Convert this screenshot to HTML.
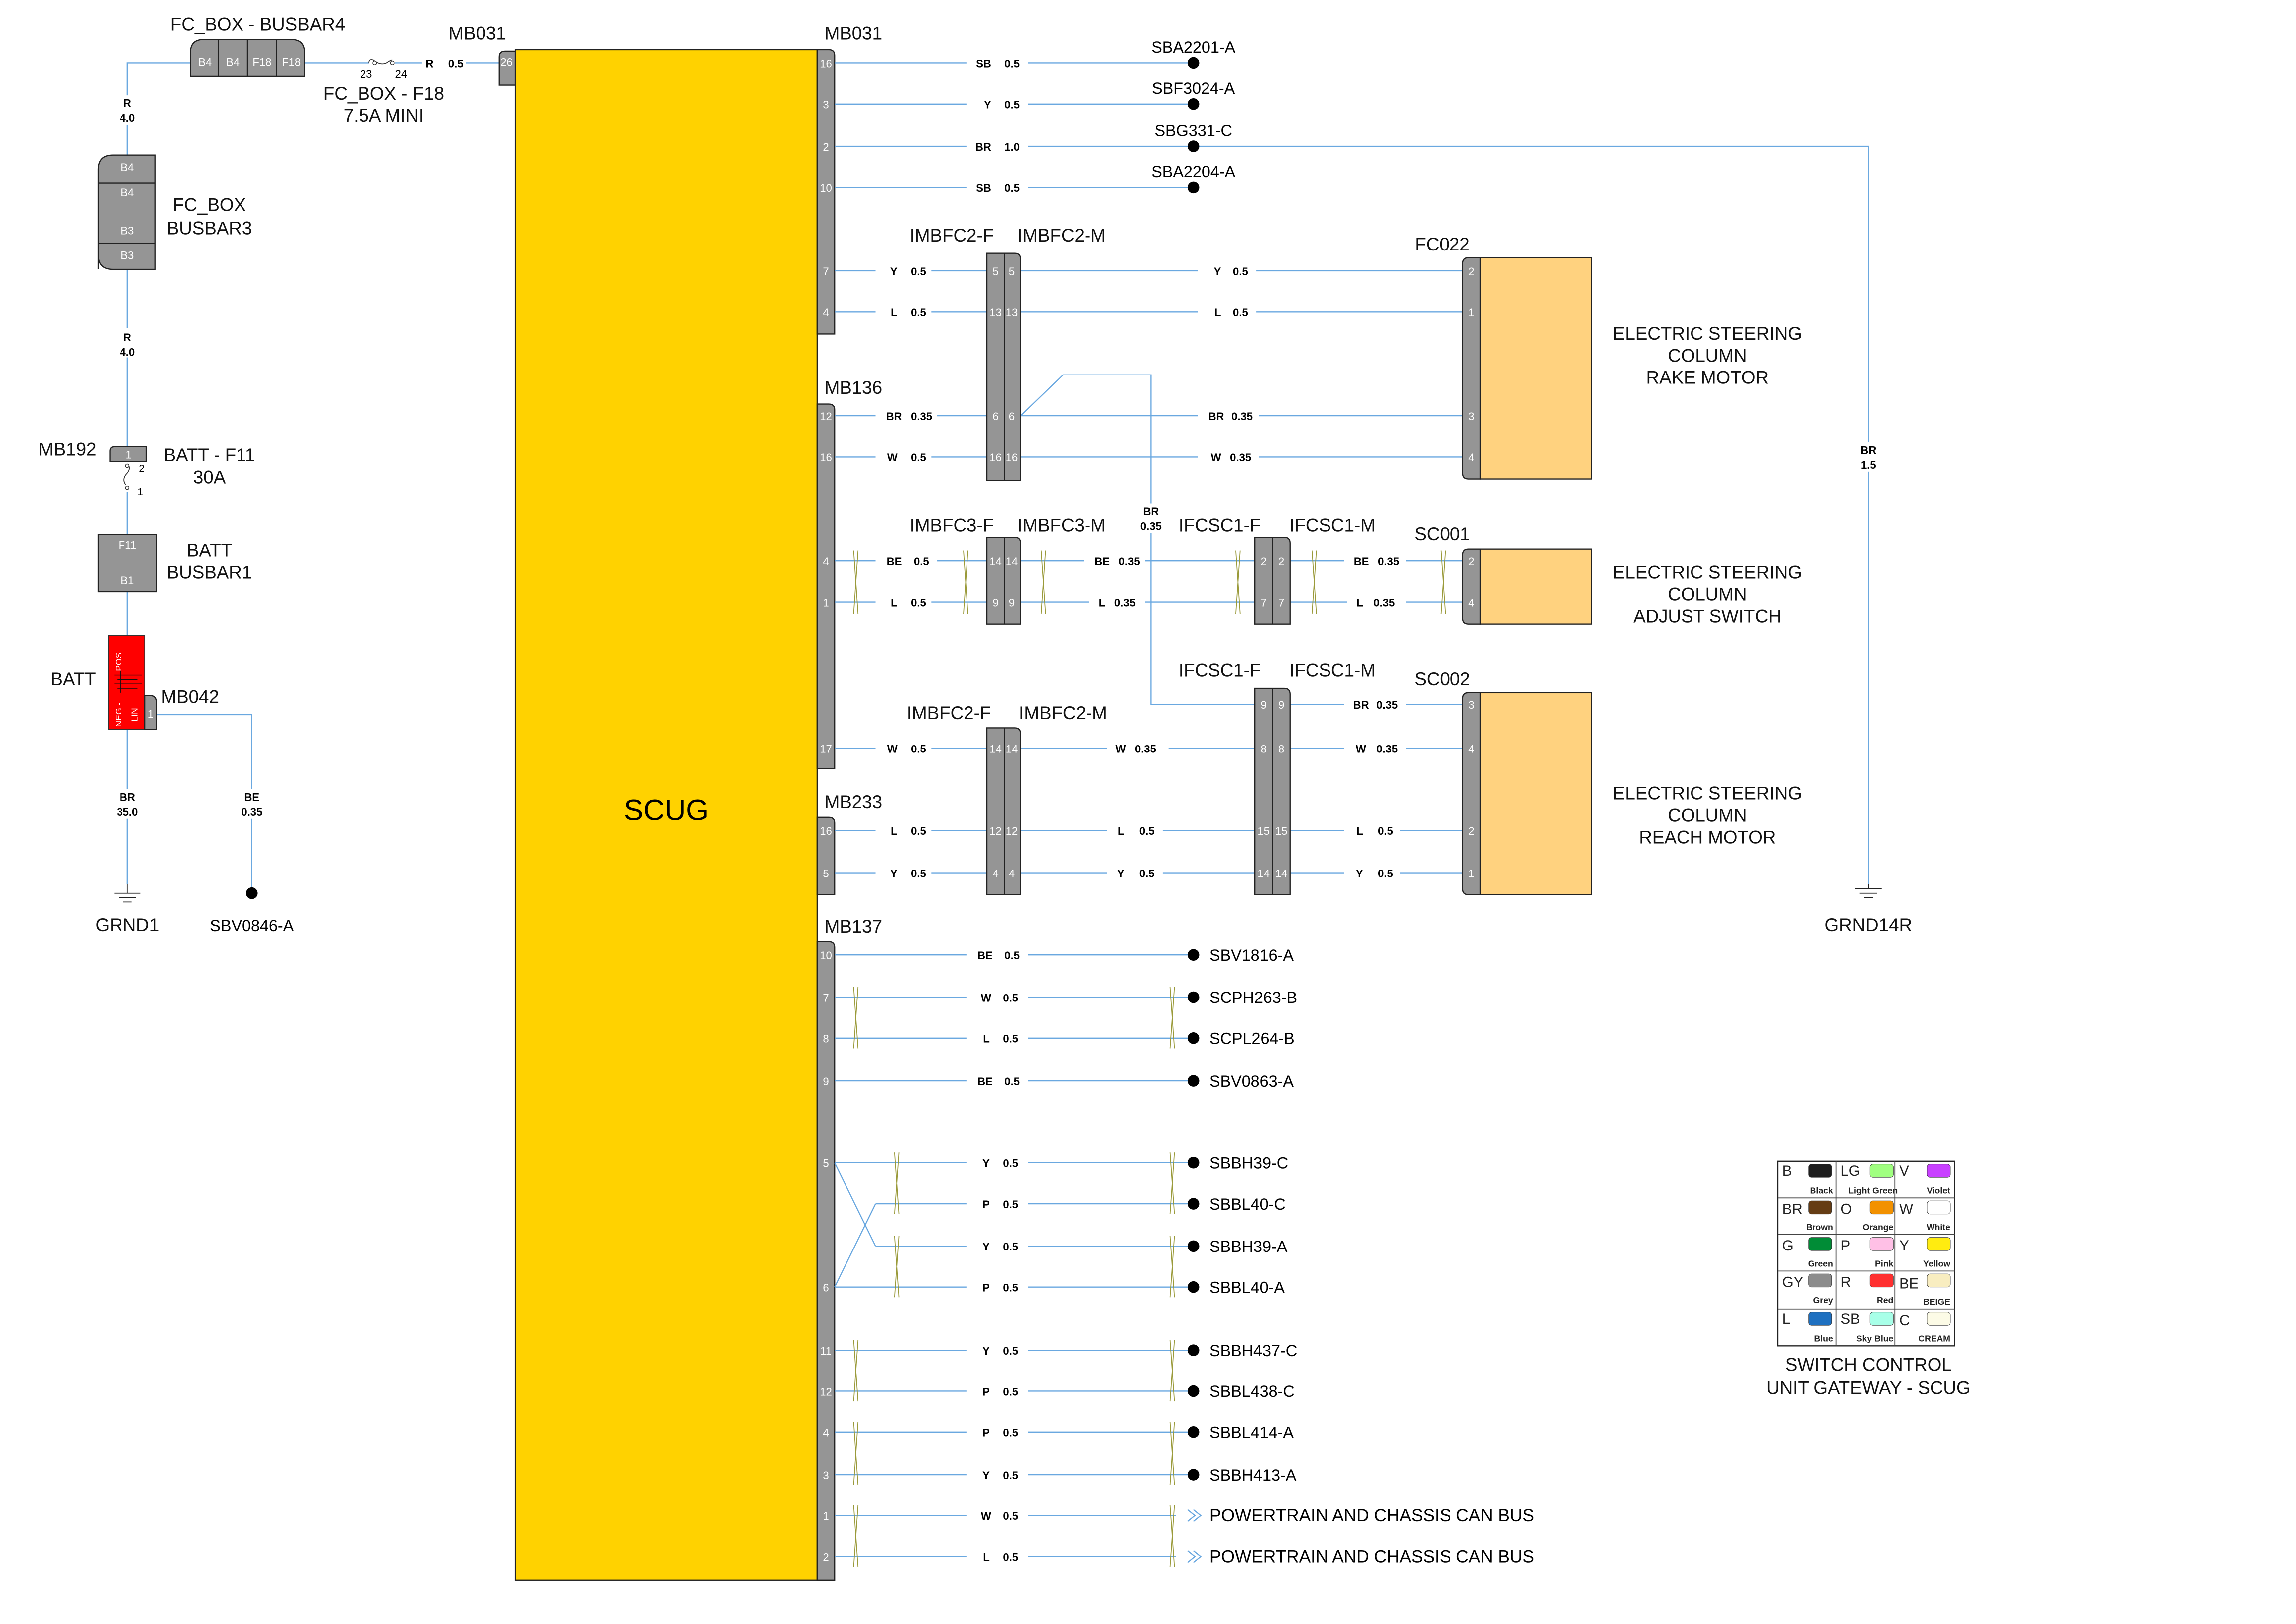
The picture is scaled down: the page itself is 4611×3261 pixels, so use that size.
<!DOCTYPE html>
<html><head><meta charset="utf-8"><style>
html,body{margin:0;padding:0;background:#fff;}
svg{display:block;}
text{font-family:"Liberation Sans",Arial,sans-serif;}
.w{stroke:#6aa8e0;stroke-width:0.8;fill:none;}
.pin{fill:#fff;font-size:7.5px;text-anchor:middle;}
.wl{font-size:7.5px;font-weight:bold;fill:#000;}
.lb{font-size:12.5px;fill:#111;}
.lc{font-size:12.5px;fill:#111;text-anchor:middle;}
.con{fill:#959595;stroke:#222;stroke-width:0.8;}
.tw{stroke:#9a9a3a;stroke-width:0.6;fill:none;}
.lg{font-size:10px;fill:#222;}
.lgs{font-size:6px;font-weight:bold;fill:#222;text-anchor:end;}
</style></head><body>
<svg width="4611" height="3261" viewBox="0 0 1568 1109" preserveAspectRatio="none" xmlns="http://www.w3.org/2000/svg">
<rect width="1568" height="1109" fill="#fff"/>

<!-- ===== LEFT POWER SECTION ===== -->
<path class="w" d="M130 43 H87 V107"/>
<path class="w" d="M87 184 V305"/>
<path class="w" d="M87 336 V365"/>
<path class="w" d="M87 404 V434"/>
<path class="w" d="M87 498 V604"/>
<path class="w" d="M107 488 H172 V608"/>
<path class="w" d="M208 43 H252"/>
<path class="w" d="M270 43 H341"/>

<text class="lc" x="176" y="21">FC_BOX - BUSBAR4</text>
<path class="con" d="M130 52 V36 Q130 27 139 27 H199 Q208 27 208 36 V52 Z"/>
<path d="M149 27V52M169 27V52M189 27V52" stroke="#222" stroke-width="0.8"/>
<text class="pin" x="140" y="45">B4</text><text class="pin" x="159" y="45">B4</text><text class="pin" x="179" y="45">F18</text><text class="pin" x="199" y="45">F18</text>

<path d="M252 43 q0-3 3-2 q5 4 9 2 q3-2 4-2" fill="none" stroke="#333" stroke-width="0.6"/>
<circle cx="256" cy="43" r="1.3" fill="#fff" stroke="#333" stroke-width="0.5"/>
<circle cx="268" cy="43" r="1.3" fill="#fff" stroke="#333" stroke-width="0.5"/>
<text x="250" y="53" font-size="7.5" text-anchor="middle">23</text>
<text x="274" y="53" font-size="7.5" text-anchor="middle">24</text>
<rect x="288" y="38" width="30" height="9" fill="#fff"/>
<text class="wl" x="296" y="46" text-anchor="end">R</text><text class="wl" x="306" y="46">0.5</text>
<text class="lc" x="262" y="68">FC_BOX - F18</text>
<text class="lc" x="262" y="83">7.5A MINI</text>
<text class="lc" x="326" y="27">MB031</text>
<path class="con" d="M341 58 V39 Q341 35 345 35 H352 V58 Z"/>
<text class="pin" x="346" y="45">26</text>

<rect x="80" y="65" width="14" height="20" fill="#fff"/>
<text class="wl" x="87" y="73" text-anchor="middle">R</text><text class="wl" x="87" y="83" text-anchor="middle">4.0</text>

<path class="con" d="M67 184 V116 Q67 106 77 106 H106 V184 H77 Q67 184 67 174 Z"/>
<path d="M67 125H106M67 166H106" stroke="#222" stroke-width="0.8"/>
<text class="pin" x="87" y="117">B4</text><text class="pin" x="87" y="134">B4</text><text class="pin" x="87" y="160">B3</text><text class="pin" x="87" y="177">B3</text>
<text class="lc" x="143" y="144">FC_BOX</text><text class="lc" x="143" y="160">BUSBAR3</text>

<rect x="80" y="224" width="14" height="20" fill="#fff"/>
<text class="wl" x="87" y="233" text-anchor="middle">R</text><text class="wl" x="87" y="243" text-anchor="middle">4.0</text>

<text class="lc" x="46" y="311">MB192</text>
<path class="con" d="M75 315 V308 Q75 305 78 305 H100 V315 Z"/>
<text class="pin" x="88" y="313">1</text>
<path d="M87 317 q3 2 0 6 q-4 4 -1 8" fill="none" stroke="#333" stroke-width="0.6"/>
<circle cx="87" cy="318" r="1.2" fill="#fff" stroke="#333" stroke-width="0.5"/>
<circle cx="87" cy="333" r="1.2" fill="#fff" stroke="#333" stroke-width="0.5"/>
<text x="95" y="322" font-size="7">2</text><text x="94" y="338" font-size="7">1</text>
<text class="lc" x="143" y="315">BATT - F11</text><text class="lc" x="143" y="330">30A</text>

<rect class="con" x="67" y="365" width="40" height="39"/>
<text class="pin" x="87" y="375">F11</text><text class="pin" x="87" y="399">B1</text>
<text class="lc" x="143" y="380">BATT</text><text class="lc" x="143" y="395">BUSBAR1</text>

<rect x="74" y="434" width="25" height="64" fill="#ff0000" stroke="#333" stroke-width="0.6"/>
<text transform="translate(83,452) rotate(-90)" font-size="6" fill="#fff" text-anchor="middle">POS</text>
<text transform="translate(83,488) rotate(-90)" font-size="6" fill="#fff" text-anchor="middle">NEG -</text>
<text transform="translate(94,488) rotate(-90)" font-size="6" fill="#fff" text-anchor="middle">LIN</text>
<path d="M78 461H97M80 464H94M78 467H97M80 470H94M82 458V473" stroke="#111" stroke-width="0.5"/>
<path class="con" d="M99 498 V475 H103 Q107 475 107 480 V498 Z"/>
<text class="pin" x="103" y="490">1</text>
<text class="lb" x="110" y="480">MB042</text>
<text class="lc" x="50" y="468">BATT</text>

<rect x="78" y="539" width="18" height="20" fill="#fff"/>
<text class="wl" x="87" y="547" text-anchor="middle">BR</text><text class="wl" x="87" y="557" text-anchor="middle">35.0</text>
<rect x="163" y="539" width="18" height="20" fill="#fff"/>
<text class="wl" x="172" y="547" text-anchor="middle">BE</text><text class="wl" x="172" y="557" text-anchor="middle">0.35</text>

<path d="M87 604V610M78 610H96M81 613H93M84 616H90" stroke="#222" stroke-width="0.6"/>
<text class="lc" x="87" y="636">GRND1</text>
<circle cx="172" cy="610" r="4" fill="#000"/>
<text x="172" y="636" font-size="11" text-anchor="middle">SBV0846-A</text>

<!-- ===== SCUG ===== -->
<rect x="352" y="34" width="206" height="1045" fill="#ffd200" stroke="#222" stroke-width="0.8"/>
<text x="455" y="560" font-size="20" text-anchor="middle">SCUG</text>

<path class="con" d="M558 228 V34 H566 Q570 34 570 38 V228 Z"/>
<text class="lb" x="563" y="27">MB031</text>
<path class="con" d="M558 525 V276 H566 Q570 276 570 280 V525 Z"/>
<text class="lb" x="563" y="269">MB136</text>
<path class="con" d="M558 611 V558 H566 Q570 558 570 562 V611 Z"/>
<text class="lb" x="563" y="552">MB233</text>
<path class="con" d="M558 1079 V643 H566 Q570 643 570 647 V1079 Z"/>
<text class="lb" x="563" y="637">MB137</text>

<g class="pin">
<text x="564" y="46">16</text><text x="564" y="74">3</text><text x="564" y="103">2</text><text x="564" y="131">10</text><text x="564" y="188">7</text><text x="564" y="216">4</text>
<text x="564" y="287">12</text><text x="564" y="315">16</text><text x="564" y="386">4</text><text x="564" y="414">1</text><text x="564" y="514">17</text>
<text x="564" y="570">16</text><text x="564" y="599">5</text>
<text x="564" y="655">10</text><text x="564" y="684">7</text><text x="564" y="712">8</text><text x="564" y="741">9</text><text x="564" y="797">5</text><text x="564" y="882">6</text><text x="564" y="925">11</text><text x="564" y="953">12</text><text x="564" y="981">4</text><text x="564" y="1010">3</text><text x="564" y="1038">1</text><text x="564" y="1066">2</text>
</g>

<path class="w" d="M570 43H815M570 71H815M570 128H815M570 100H1276V604"/>
<g class="wl">
<rect x="660" y="38" width="42" height="9" fill="#fff"/><text x="677" y="46" text-anchor="end">SB</text><text x="686" y="46">0.5</text>
<rect x="660" y="66" width="42" height="9" fill="#fff"/><text x="677" y="74" text-anchor="end">Y</text><text x="686" y="74">0.5</text>
<rect x="660" y="95" width="42" height="9" fill="#fff"/><text x="677" y="103" text-anchor="end">BR</text><text x="686" y="103">1.0</text>
<rect x="660" y="123" width="42" height="9" fill="#fff"/><text x="677" y="131" text-anchor="end">SB</text><text x="686" y="131">0.5</text>
</g>
<g fill="#000"><circle cx="815" cy="43" r="4"/><circle cx="815" cy="71" r="4"/><circle cx="815" cy="100" r="4"/><circle cx="815" cy="128" r="4"/></g>
<g font-size="11" text-anchor="middle">
<text x="815" y="36">SBA2201-A</text><text x="815" y="64">SBF3024-A</text><text x="815" y="93">SBG331-C</text><text x="815" y="121">SBA2204-A</text></g>
<rect x="1268" y="302" width="17" height="20" fill="#fff"/>
<text class="wl" x="1276" y="310" text-anchor="middle">BR</text><text class="wl" x="1276" y="320" text-anchor="middle">1.5</text>
<path d="M1276 604V607M1267 607H1285M1270 610H1282M1273 613H1279" stroke="#222" stroke-width="0.6"/>
<text class="lc" x="1276" y="636">GRND14R</text>

<!-- ===== RAKE MOTOR ===== -->
<path class="w" d="M570 185H674M570 213H674M570 284H674M570 312H674"/>
<path class="w" d="M697 185H999M697 213H999M697 284H999M697 312H999"/>
<path class="w" d="M697 284L726 256H786V481H858"/>
<g class="wl">
<rect x="598" y="180" width="38" height="9" fill="#fff"/><text x="613" y="188" text-anchor="end">Y</text><text x="622" y="188">0.5</text>
<rect x="598" y="208" width="38" height="9" fill="#fff"/><text x="613" y="216" text-anchor="end">L</text><text x="622" y="216">0.5</text>
<rect x="598" y="279" width="42" height="9" fill="#fff"/><text x="616" y="287" text-anchor="end">BR</text><text x="622" y="287">0.35</text>
<rect x="598" y="307" width="38" height="9" fill="#fff"/><text x="613" y="315" text-anchor="end">W</text><text x="622" y="315">0.5</text>
<rect x="818" y="180" width="40" height="9" fill="#fff"/><text x="834" y="188" text-anchor="end">Y</text><text x="842" y="188">0.5</text>
<rect x="818" y="208" width="40" height="9" fill="#fff"/><text x="834" y="216" text-anchor="end">L</text><text x="842" y="216">0.5</text>
<rect x="818" y="279" width="42" height="9" fill="#fff"/><text x="836" y="287" text-anchor="end">BR</text><text x="841" y="287">0.35</text>
<rect x="818" y="307" width="42" height="9" fill="#fff"/><text x="834" y="315" text-anchor="end">W</text><text x="840" y="315">0.35</text>
<rect x="777" y="344" width="18" height="20" fill="#fff"/><text x="786" y="352" text-anchor="middle">BR</text><text x="786" y="362" text-anchor="middle">0.35</text>
</g>
<text class="lc" x="650" y="165">IMBFC2-F</text><text class="lc" x="725" y="165">IMBFC2-M</text>
<path class="con" d="M674 328V173H693Q697 173 697 177V328Z"/><path d="M686 173V328" stroke="#222" stroke-width="0.8"/>
<g class="pin"><text x="680" y="188">5</text><text x="691" y="188">5</text><text x="680" y="216">13</text><text x="691" y="216">13</text><text x="680" y="287">6</text><text x="691" y="287">6</text><text x="680" y="315">16</text><text x="691" y="315">16</text></g>
<text class="lc" x="985" y="171">FC022</text>
<rect x="1011" y="176" width="76" height="151" fill="#ffd27f" stroke="#222" stroke-width="0.8"/>
<path class="con" d="M1011 327H1003Q999 327 999 323V180Q999 176 1003 176H1011Z"/>
<g class="pin"><text x="1005" y="188">2</text><text x="1005" y="216">1</text><text x="1005" y="287">3</text><text x="1005" y="315">4</text></g>
<text class="lc" x="1166" y="232">ELECTRIC STEERING</text><text class="lc" x="1166" y="247">COLUMN</text><text class="lc" x="1166" y="262">RAKE MOTOR</text>

<!-- ===== ADJUST SWITCH ===== -->
<path class="w" d="M570 383H674M570 411H674M697 383H857M697 411H857M881 383H999M881 411H999"/>
<g class="wl">
<rect x="598" y="378" width="42" height="9" fill="#fff"/><text x="616" y="386" text-anchor="end">BE</text><text x="624" y="386">0.5</text>
<rect x="598" y="406" width="38" height="9" fill="#fff"/><text x="613" y="414" text-anchor="end">L</text><text x="622" y="414">0.5</text>
<rect x="740" y="378" width="42" height="9" fill="#fff"/><text x="758" y="386" text-anchor="end">BE</text><text x="764" y="386">0.35</text>
<rect x="744" y="406" width="38" height="9" fill="#fff"/><text x="755" y="414" text-anchor="end">L</text><text x="761" y="414">0.35</text>
<rect x="918" y="378" width="42" height="9" fill="#fff"/><text x="935" y="386" text-anchor="end">BE</text><text x="941" y="386">0.35</text>
<rect x="920" y="406" width="40" height="9" fill="#fff"/><text x="931" y="414" text-anchor="end">L</text><text x="938" y="414">0.35</text>
</g>
<text class="lc" x="650" y="363">IMBFC3-F</text><text class="lc" x="725" y="363">IMBFC3-M</text>
<text class="lc" x="833" y="363">IFCSC1-F</text><text class="lc" x="910" y="363">IFCSC1-M</text>
<path class="con" d="M674 426V367H693Q697 367 697 371V426Z"/><path d="M686 367V426" stroke="#222" stroke-width="0.8"/>
<g class="pin"><text x="680" y="386">14</text><text x="691" y="386">14</text><text x="680" y="414">9</text><text x="691" y="414">9</text></g>
<path class="con" d="M857 426V367H877Q881 367 881 371V426Z"/><path d="M869 367V426" stroke="#222" stroke-width="0.8"/>
<g class="pin"><text x="863" y="386">2</text><text x="875" y="386">2</text><text x="863" y="414">7</text><text x="875" y="414">7</text></g>
<text class="lc" x="985" y="369">SC001</text>
<rect x="1011" y="375" width="76" height="51" fill="#ffd27f" stroke="#222" stroke-width="0.8"/>
<path class="con" d="M1011 426H1003Q999 426 999 422V379Q999 375 1003 375H1011Z"/>
<g class="pin"><text x="1005" y="386">2</text><text x="1005" y="414">4</text></g>
<text class="lc" x="1166" y="395">ELECTRIC STEERING</text><text class="lc" x="1166" y="410">COLUMN</text><text class="lc" x="1166" y="425">ADJUST SWITCH</text>

<g class="tw">
<path d="M583 376L586 419M586 376L583 419"/>
<path d="M658 376L661 419M661 376L658 419"/>
<path d="M711 376L714 419M714 376L711 419"/>
<path d="M844 376L847 419M847 376L844 419"/>
<path d="M896 376L899 419M899 376L896 419"/>
<path d="M984 376L987 419M987 376L984 419"/>
</g>

<!-- ===== REACH MOTOR ===== -->
<path class="w" d="M570 511H674M570 567H674M570 596H674M697 511H857M697 567H857M697 596H857M881 481H999M881 511H999M881 567H999M881 596H999"/>
<g class="wl">
<rect x="598" y="506" width="38" height="9" fill="#fff"/><text x="613" y="514" text-anchor="end">W</text><text x="622" y="514">0.5</text>
<rect x="598" y="562" width="38" height="9" fill="#fff"/><text x="613" y="570" text-anchor="end">L</text><text x="622" y="570">0.5</text>
<rect x="598" y="591" width="38" height="9" fill="#fff"/><text x="613" y="599" text-anchor="end">Y</text><text x="622" y="599">0.5</text>
<rect x="756" y="506" width="42" height="9" fill="#fff"/><text x="769" y="514" text-anchor="end">W</text><text x="775" y="514">0.35</text>
<rect x="756" y="562" width="38" height="9" fill="#fff"/><text x="768" y="570" text-anchor="end">L</text><text x="778" y="570">0.5</text>
<rect x="756" y="591" width="38" height="9" fill="#fff"/><text x="768" y="599" text-anchor="end">Y</text><text x="778" y="599">0.5</text>
<rect x="918" y="476" width="42" height="9" fill="#fff"/><text x="935" y="484" text-anchor="end">BR</text><text x="940" y="484">0.35</text>
<rect x="918" y="506" width="42" height="9" fill="#fff"/><text x="933" y="514" text-anchor="end">W</text><text x="940" y="514">0.35</text>
<rect x="918" y="562" width="38" height="9" fill="#fff"/><text x="931" y="570" text-anchor="end">L</text><text x="941" y="570">0.5</text>
<rect x="918" y="591" width="38" height="9" fill="#fff"/><text x="931" y="599" text-anchor="end">Y</text><text x="941" y="599">0.5</text>
</g>
<text class="lc" x="648" y="491">IMBFC2-F</text><text class="lc" x="726" y="491">IMBFC2-M</text>
<text class="lc" x="833" y="462">IFCSC1-F</text><text class="lc" x="910" y="462">IFCSC1-M</text>
<path class="con" d="M674 611V497H693Q697 497 697 501V611Z"/><path d="M686 497V611" stroke="#222" stroke-width="0.8"/>
<g class="pin"><text x="680" y="514">14</text><text x="691" y="514">14</text><text x="680" y="570">12</text><text x="691" y="570">12</text><text x="680" y="599">4</text><text x="691" y="599">4</text></g>
<path class="con" d="M857 611V470H877Q881 470 881 474V611Z"/><path d="M869 470V611" stroke="#222" stroke-width="0.8"/>
<g class="pin"><text x="863" y="484">9</text><text x="875" y="484">9</text><text x="863" y="514">8</text><text x="875" y="514">8</text><text x="863" y="570">15</text><text x="875" y="570">15</text><text x="863" y="599">14</text><text x="875" y="599">14</text></g>
<text class="lc" x="985" y="468">SC002</text>
<rect x="1011" y="473" width="76" height="138" fill="#ffd27f" stroke="#222" stroke-width="0.8"/>
<path class="con" d="M1011 611H1003Q999 611 999 607V477Q999 473 1003 473H1011Z"/>
<g class="pin"><text x="1005" y="484">3</text><text x="1005" y="514">4</text><text x="1005" y="570">2</text><text x="1005" y="599">1</text></g>
<text class="lc" x="1166" y="546">ELECTRIC STEERING</text><text class="lc" x="1166" y="561">COLUMN</text><text class="lc" x="1166" y="576">REACH MOTOR</text>

<!-- ===== MB137 ===== -->
<path class="w" d="M570 652H815M570 681H815M570 709H815M570 738H815M570 794H815M598 822H815M598 851H815M570 879H815M570 922H815M570 950H815M570 978H815M570 1007H815M570 1035H803M570 1063H803"/>
<path class="w" d="M570 794L598 851M570 879L598 822"/>
<g class="wl">
<rect x="660" y="647" width="42" height="9" fill="#fff"/><text x="678" y="655" text-anchor="end">BE</text><text x="686" y="655">0.5</text>
<rect x="660" y="676" width="42" height="9" fill="#fff"/><text x="677" y="684" text-anchor="end">W</text><text x="685" y="684">0.5</text>
<rect x="660" y="704" width="42" height="9" fill="#fff"/><text x="676" y="712" text-anchor="end">L</text><text x="685" y="712">0.5</text>
<rect x="660" y="733" width="42" height="9" fill="#fff"/><text x="678" y="741" text-anchor="end">BE</text><text x="686" y="741">0.5</text>
<rect x="660" y="789" width="42" height="9" fill="#fff"/><text x="676" y="797" text-anchor="end">Y</text><text x="685" y="797">0.5</text>
<rect x="660" y="817" width="42" height="9" fill="#fff"/><text x="676" y="825" text-anchor="end">P</text><text x="685" y="825">0.5</text>
<rect x="660" y="846" width="42" height="9" fill="#fff"/><text x="676" y="854" text-anchor="end">Y</text><text x="685" y="854">0.5</text>
<rect x="660" y="874" width="42" height="9" fill="#fff"/><text x="676" y="882" text-anchor="end">P</text><text x="685" y="882">0.5</text>
<rect x="660" y="917" width="42" height="9" fill="#fff"/><text x="676" y="925" text-anchor="end">Y</text><text x="685" y="925">0.5</text>
<rect x="660" y="945" width="42" height="9" fill="#fff"/><text x="676" y="953" text-anchor="end">P</text><text x="685" y="953">0.5</text>
<rect x="660" y="973" width="42" height="9" fill="#fff"/><text x="676" y="981" text-anchor="end">P</text><text x="685" y="981">0.5</text>
<rect x="660" y="1002" width="42" height="9" fill="#fff"/><text x="676" y="1010" text-anchor="end">Y</text><text x="685" y="1010">0.5</text>
<rect x="660" y="1030" width="42" height="9" fill="#fff"/><text x="677" y="1038" text-anchor="end">W</text><text x="685" y="1038">0.5</text>
<rect x="660" y="1058" width="42" height="9" fill="#fff"/><text x="676" y="1066" text-anchor="end">L</text><text x="685" y="1066">0.5</text>
</g>
<g class="tw">
<path d="M583 674L586 716M586 674L583 716M799 674L802 716M802 674L799 716"/>
<path d="M611 787L614 829M614 787L611 829M799 787L802 829M802 787L799 829"/>
<path d="M611 844L614 886M614 844L611 886M799 844L802 886M802 844L799 886"/>
<path d="M583 915L586 957M586 915L583 957M799 915L802 957M802 915L799 957"/>
<path d="M583 971L586 1014M586 971L583 1014M799 971L802 1014M802 971L799 1014"/>
<path d="M583 1028L586 1070M586 1028L583 1070M799 1028L802 1070M802 1028L799 1070"/>
</g>
<g fill="#000">
<circle cx="815" cy="652" r="4"/><circle cx="815" cy="681" r="4"/><circle cx="815" cy="709" r="4"/><circle cx="815" cy="738" r="4"/>
<circle cx="815" cy="794" r="4"/><circle cx="815" cy="822" r="4"/><circle cx="815" cy="851" r="4"/><circle cx="815" cy="879" r="4"/>
<circle cx="815" cy="922" r="4"/><circle cx="815" cy="950" r="4"/><circle cx="815" cy="978" r="4"/><circle cx="815" cy="1007" r="4"/>
</g>
<path d="M811 1031L816 1035L811 1039M815 1031L820 1035L815 1039M811 1059L816 1063L811 1067M815 1059L820 1063L815 1067" fill="none" stroke="#6aa8e0" stroke-width="0.8"/>
<g font-size="11">
<text x="826" y="656">SBV1816-A</text><text x="826" y="685">SCPH263-B</text><text x="826" y="713">SCPL264-B</text><text x="826" y="742">SBV0863-A</text>
<text x="826" y="798">SBBH39-C</text><text x="826" y="826">SBBL40-C</text><text x="826" y="855">SBBH39-A</text><text x="826" y="883">SBBL40-A</text>
<text x="826" y="926">SBBH437-C</text><text x="826" y="954">SBBL438-C</text><text x="826" y="982">SBBL414-A</text><text x="826" y="1011">SBBH413-A</text>
<text x="826" y="1039" font-size="12">POWERTRAIN AND CHASSIS CAN BUS</text><text x="826" y="1067" font-size="12">POWERTRAIN AND CHASSIS CAN BUS</text>
</g>

<!-- ===== LEGEND ===== -->
<rect x="1214" y="793" width="121" height="126" fill="#fff" stroke="#222" stroke-width="0.8"/>
<path d="M1254 793V919M1294 793V919M1214 818H1335M1214 843H1335M1214 868H1335M1214 894H1335" stroke="#444" stroke-width="0.6"/>
<g stroke="#333" stroke-width="0.3">
<rect x="1235" y="795" width="16" height="9" rx="2" fill="#1e1e1e"/><rect x="1277" y="795" width="16" height="9" rx="2" fill="#a0ff80"/><rect x="1316" y="795" width="16" height="9" rx="2" fill="#c840ff"/>
<rect x="1235" y="820" width="16" height="9" rx="2" fill="#653c14"/><rect x="1277" y="820" width="16" height="9" rx="2" fill="#f29100"/><rect x="1316" y="820" width="16" height="9" rx="2" fill="#fff"/>
<rect x="1235" y="845" width="16" height="9" rx="2" fill="#008c36"/><rect x="1277" y="845" width="16" height="9" rx="2" fill="#ffc0e6"/><rect x="1316" y="845" width="16" height="9" rx="2" fill="#ffec10"/>
<rect x="1235" y="870" width="16" height="9" rx="2" fill="#8c8c8c"/><rect x="1277" y="870" width="16" height="9" rx="2" fill="#ff3030"/><rect x="1316" y="870" width="16" height="9" rx="2" fill="#f8edc0"/>
<rect x="1235" y="896" width="16" height="9" rx="2" fill="#1e70c0"/><rect x="1277" y="896" width="16" height="9" rx="2" fill="#a8ffe8"/><rect x="1316" y="896" width="16" height="9" rx="2" fill="#fcfbe6"/>
</g>
<g class="lg">
<text x="1217" y="803">B</text><text x="1257" y="803">LG</text><text x="1297" y="803">V</text>
<text x="1217" y="829">BR</text><text x="1257" y="829">O</text><text x="1297" y="829">W</text>
<text x="1217" y="854">G</text><text x="1257" y="854">P</text><text x="1297" y="854">Y</text>
<text x="1217" y="879">GY</text><text x="1257" y="879">R</text><text x="1297" y="880">BE</text>
<text x="1217" y="904">L</text><text x="1257" y="904">SB</text><text x="1297" y="905">C</text>
</g>
<g class="lgs">
<text x="1252" y="815">Black</text><text x="1296" y="815">Light Green</text><text x="1332" y="815">Violet</text>
<text x="1252" y="840">Brown</text><text x="1293" y="840">Orange</text><text x="1332" y="840">White</text>
<text x="1252" y="865">Green</text><text x="1293" y="865">Pink</text><text x="1332" y="865">Yellow</text>
<text x="1252" y="890">Grey</text><text x="1293" y="890">Red</text><text x="1332" y="891">BEIGE</text>
<text x="1252" y="916">Blue</text><text x="1293" y="916">Sky Blue</text><text x="1332" y="916">CREAM</text>
</g>
<text class="lc" x="1276" y="936">SWITCH CONTROL</text>
<text class="lc" x="1276" y="952">UNIT GATEWAY - SCUG</text>
</svg>
</body></html>
